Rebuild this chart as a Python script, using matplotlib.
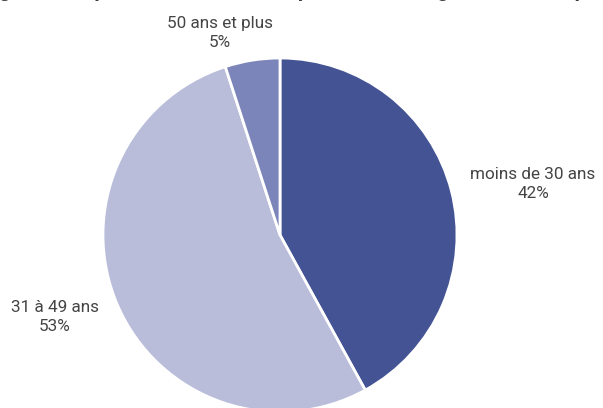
import matplotlib
matplotlib.use("Agg")
from matplotlib import pyplot as plt

plt.rcParams['font.family'] = ['Roboto', 'DejaVu Sans']

# tranches d'âge, dans l'ordre de tracé (sens horaire depuis midi)
categories = ["moins de 30 ans", "31 à 49 ans", "50 ans et plus"]
values = [42, 53, 5]
colors = ["#435393", "#B9BDDA", "#7C85BA"]

W, H = 603, 408
fig = plt.figure(figsize=(W / 100, H / 100), dpi=100)
ax = fig.add_axes([0, 0, 1, 1])

center = (280, H - 235)
ax.pie(values, colors=colors, startangle=90, counterclock=False,
       center=center, radius=177, frame=True,
       wedgeprops=dict(edgecolor='white', linewidth=2))
ax.set_xlim(0, W)
ax.set_ylim(0, H)
ax.set_aspect('equal')
ax.axis('off')

# étiquettes : nom de la tranche + pourcentage
label_pos = [(533, H - 184), (55, H - 317), (220, H - 33)]
for name, v, (x, y) in zip(categories, values, label_pos):
    ax.text(x, y, f"{name}\n{v}%", ha='center', va='center',
            fontsize=12.3, color='#444444', linespacing=1.3)

# titre (coupé en haut)
fig.text(0.5, (H + 3) / H, "Figure 3 : répartition des salariés par tranche d'âge dans l'entreprise",
         ha='center', va='baseline', fontsize=15, fontweight='bold', color='#404040')

fig.savefig("out.png", dpi=100)
